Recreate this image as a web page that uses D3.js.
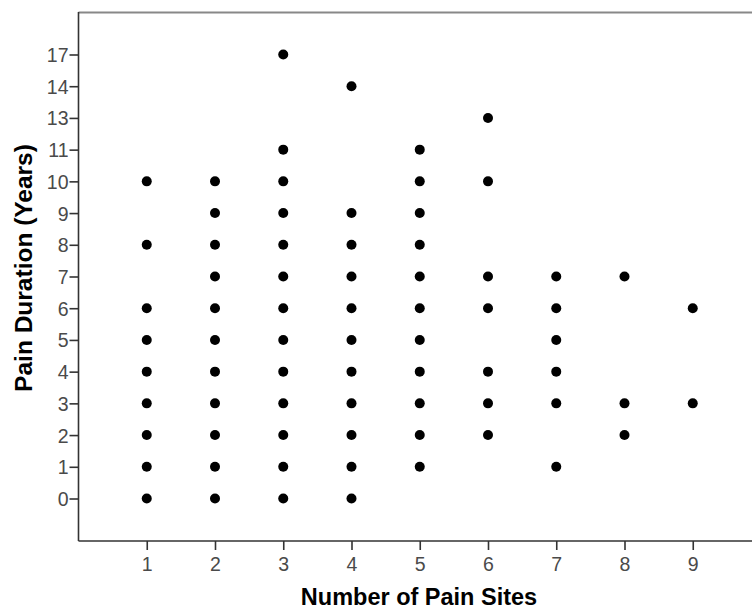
<!DOCTYPE html>
<html><head><meta charset="utf-8">
<script src="https://cdn.jsdelivr.net/npm/d3@7"></script>
<style>body{margin:0;background:#fff}svg{display:block}</style>
</head><body>
<svg id="c" width="752" height="610"></svg>
<script>
const yCategories = ["0","1","2","3","4","5","6","7","8","9","10","11","13","14","17"];
const xTicks = [1,2,3,4,5,6,7,8,9];
const painSites = [
  1,1,1,1,1,1,1,1,1,
  2,2,2,2,2,2,2,2,2,2,2,
  3,3,3,3,3,3,3,3,3,3,3,3,3,
  4,4,4,4,4,4,4,4,4,4,4,
  5,5,5,5,5,5,5,5,5,5,5,
  6,6,6,6,6,6,6,
  7,7,7,7,7,7,
  8,8,8,
  9,9
];
const painYears = [
  10,8,6,5,4,3,2,1,0,
  10,9,8,7,6,5,4,3,2,1,0,
  17,11,10,9,8,7,6,5,4,3,2,1,0,
  14,9,8,7,6,5,4,3,2,1,0,
  11,10,9,8,7,6,5,4,3,2,1,
  13,10,7,6,4,3,2,
  7,6,5,4,3,1,
  7,3,2,
  6,3
];

const FONT = "Arial, 'Liberation Sans', sans-serif";
const svg = d3.select("#c");
const L = 78.5, T = 12, B = 541, R = 752;
const x = d3.scaleLinear().domain([0,10]).range([L, 761]);
const y = d3.scalePoint().domain(yCategories).range([B, T]).padding(1.34);

svg.append("line").attr("x1",L).attr("x2",R).attr("y1",T+0.5).attr("y2",T+0.5)
  .attr("stroke","#888").attr("stroke-width",2);

const gx = svg.append("g").attr("transform",`translate(0,${B})`)
  .call(d3.axisBottom(x).tickValues(xTicks).tickSize(9).tickPadding(7).tickFormat(d3.format("d")));
const gy = svg.append("g").attr("transform",`translate(${L},0)`)
  .call(d3.axisLeft(y).tickSize(9).tickPadding(1));
[gx,gy].forEach(g=>{
  g.attr("font-size",19.5).attr("font-family",FONT);
  g.select(".domain").attr("stroke","#333").attr("stroke-width",1.6);
  g.selectAll(".tick line").attr("stroke","#333").attr("stroke-width",1.6);
  g.selectAll(".tick text").attr("fill","#4a4a4a").attr("font-size",19.5).attr("font-family",FONT);
});
gx.select(".domain").attr("d",`M${L},0H${R}`);
gy.select(".domain").attr("d",`M0,${T}V${B}`);
gy.selectAll(".tick text").attr("dy","0.36em");

const pts = painSites.map((s,i)=>({s, v:String(painYears[i])}));
svg.append("g").selectAll("circle").data(pts).join("circle")
  .attr("cx",d=>x(d.s)).attr("cy",d=>y(d.v)).attr("r",5).attr("fill","#000");

svg.append("text").attr("x",419).attr("y",605).attr("text-anchor","middle")
  .attr("font-family",FONT).attr("font-weight","bold").attr("font-size",23.5)
  .attr("fill","#000").text("Number of Pain Sites");
svg.append("text").attr("transform","translate(32,268) rotate(-90)").attr("text-anchor","middle")
  .attr("font-family",FONT).attr("font-weight","bold").attr("font-size",24.5)
  .attr("fill","#000").text("Pain Duration (Years)");
</script>
</body></html>
